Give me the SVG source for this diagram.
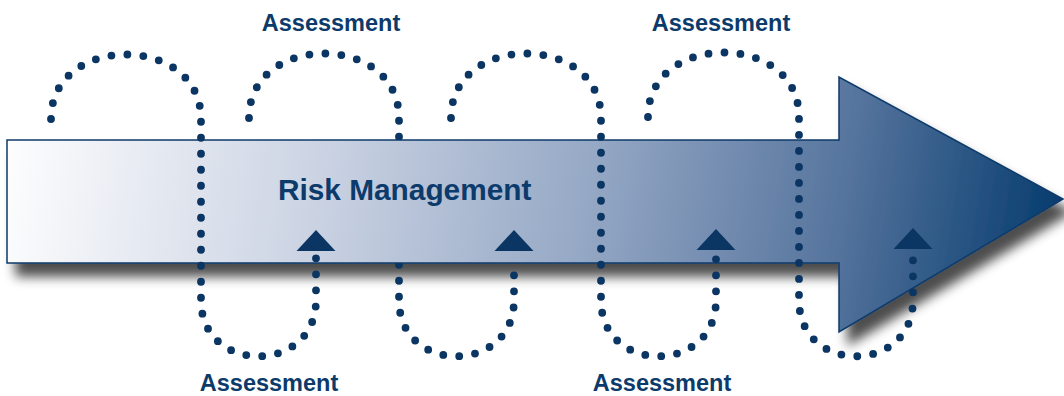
<svg xmlns="http://www.w3.org/2000/svg" width="1064" height="396" viewBox="0 0 1064 396">
<defs>
<style>
.lbl{font-family:"Liberation Sans",Arial,sans-serif;font-weight:bold;fill:#0c3a6b;}
.asm{font-size:23.5px;text-anchor:middle;}
.title{font-size:29.8px;}
.loop{fill:none;stroke:#0b3562;stroke-width:7.8;stroke-linecap:round;stroke-dasharray:0 16;}
.tri{fill:#0b3562;}
</style>
<linearGradient id="g" gradientUnits="userSpaceOnUse" x1="0" y1="120" x2="1064" y2="290">
<stop offset="0" stop-color="#ffffff"/>
<stop offset="0.3" stop-color="#cbd3e3"/>
<stop offset="0.55" stop-color="#95a8c5"/>
<stop offset="0.78" stop-color="#57759e"/>
<stop offset="1" stop-color="#00386b"/>
</linearGradient>
<filter id="sh" x="-5%" y="-20%" width="115%" height="150%">
<feGaussianBlur in="SourceAlpha" stdDeviation="6"/>
<feOffset dx="9" dy="13" result="b"/>
<feComponentTransfer><feFuncA type="linear" slope="0.7"/></feComponentTransfer>
<feMerge><feMergeNode/><feMergeNode in="SourceGraphic"/></feMerge>
</filter>
<mask id="behind" maskUnits="userSpaceOnUse" x="0" y="0" width="1064" height="396">
<rect x="0" y="0" width="1064" height="396" fill="#fff"/>
<polygon points="7,140 839,140 839,77 1063,199 839,332 839,263 7,263" fill="#000"/>
</mask>
<polygon id="tri" points="0,-21 19.5,0 -19.5,0"/>
</defs>
<g id="arrow">
<polygon points="7,140 839,140 839,77 1063,199 839,332 839,263 7,263" fill="url(#g)" stroke="#0b3a6a" stroke-width="1.5" filter="url(#sh)"/>
<text class="lbl title" x="278" y="200">Risk Management</text>
</g>
<g id="connectors">
<path class="loop" d="M51,119 C51,33 201,33 201,119 L201,300 C201,375 316,375 316,300 L316,258"/>
<path class="loop" mask="url(#behind)" d="M249,118 C249,32 399,32 399,118 L399,300 C399,375 514,375 514,300 L514,258"/>
<path class="loop" d="M451,118 C451,32 601,32 601,118 L601,300 C601,375 716,375 716,300 L716,258"/>
<path class="loop" d="M648,117 C648,31 799,31 799,117 L799,300 C799,375 913,375 913,300 L913,258"/>
<use href="#tri" class="tri" x="316" y="251"/>
<use href="#tri" class="tri" x="514" y="251"/>
<use href="#tri" class="tri" x="716" y="250"/>
<use href="#tri" class="tri" x="913" y="249"/>
</g>
<g id="label-top-1"><text class="lbl asm" x="331" y="31">Assessment</text></g>
<g id="label-top-2"><text class="lbl asm" x="721" y="31">Assessment</text></g>
<g id="label-bottom-1"><text class="lbl asm" x="269" y="391">Assessment</text></g>
<g id="label-bottom-2"><text class="lbl asm" x="662" y="391">Assessment</text></g>
</svg>
